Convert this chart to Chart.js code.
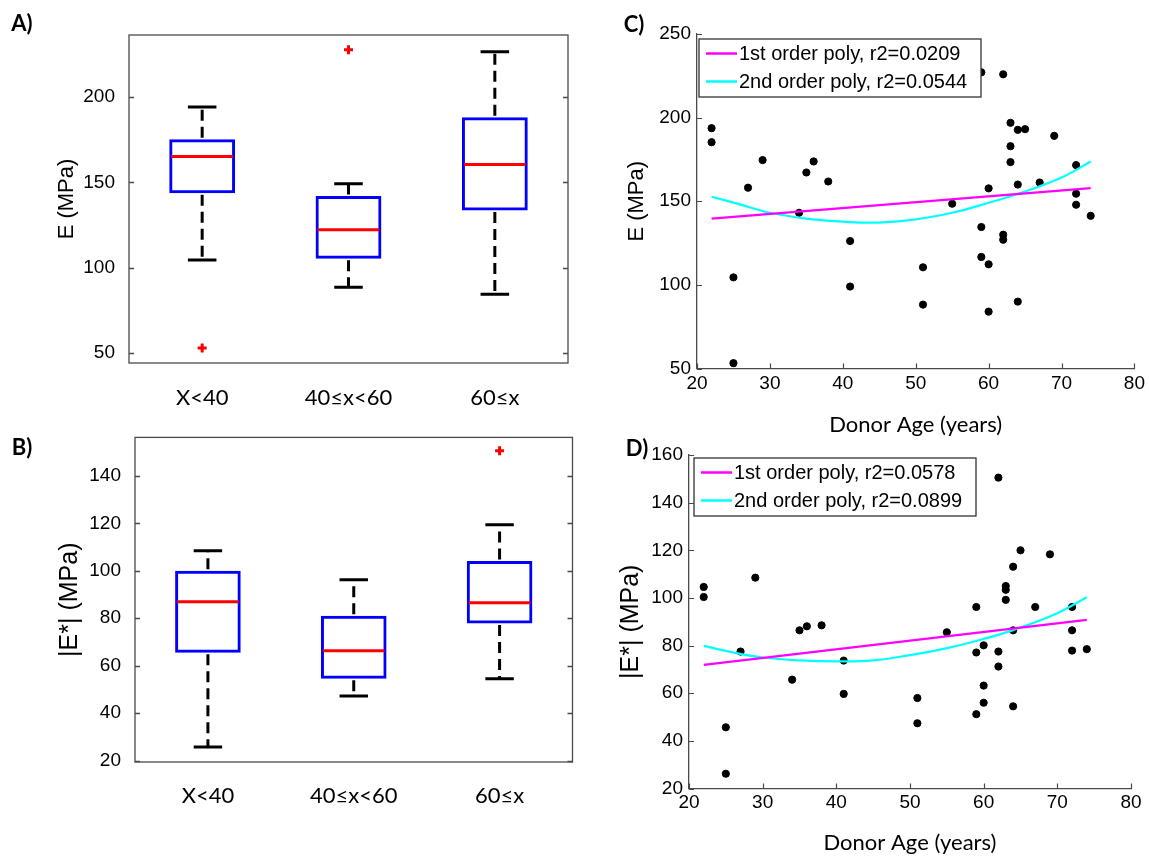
<!DOCTYPE html>
<html><head><meta charset="utf-8">
<script src="https://cdn.jsdelivr.net/npm/chart.js@4.4.1/dist/chart.umd.min.js"></script>
<style>
html,body{margin:0;padding:0;background:#fff;}
#wrap{position:relative;width:1149px;height:856px;overflow:hidden;background:#fff;}
canvas{position:absolute;}
.lab{position:absolute;font-family:Lato,"Open Sans",sans-serif;font-weight:700;font-size:22px;color:#000;transform:translate(-50%,-50%);line-height:1;white-space:nowrap;}
</style></head>
<body><div id="wrap">
<canvas id="cA" width="580" height="420" style="left:0;top:0"></canvas>
<canvas id="cB" width="580" height="436" style="left:0;top:420px"></canvas>
<canvas id="cC" width="569" height="445" style="left:580px;top:0"></canvas>
<canvas id="cD" width="569" height="426" style="left:580px;top:430px"></canvas>
<div class="lab" style="left:22px;top:23px">A)</div>
<div class="lab" style="left:22px;top:447px">B)</div>
<div class="lab" style="left:634px;top:24px">C)</div>
<div class="lab" style="left:637px;top:448px">D)</div>
</div>
<script>
// ---------- DATA ----------
const groups = ['X<40', '40≤x<60', '60≤x'];

// Panel A: E (MPa) box plot
const aLowerWhisker = [104.5, 88.6, 84.5];
const aQ1           = [143.7, 105.3, 133.6];
const aMedian       = [165.3, 122.3, 160.6];
const aQ3           = [175.3, 142.1, 188.3];
const aUpperWhisker = [194.3, 149.2, 226.7];
const aOutliers     = [52.9, 227.9, null];
const aYTicks       = [50, 100, 150, 200];

// Panel B: |E*| (MPa) box plot
const bLowerWhisker = [25.7, 47.2, 54.5];
const bQ1           = [65.4, 54.5, 77.8];
const bMedian       = [86.9, 66.3, 86.5];
const bQ3           = [100.0, 81.0, 104.1];
const bUpperWhisker = [108.4, 96.2, 119.4];
const bOutliers     = [null, null, 150.6];
const bYTicks       = [20, 40, 60, 80, 100, 120, 140];

// Panels C & D: donor age scatter
const donorAge = [22,22,25,25,27,29,34,35,36,38,41,41,51,51,55,59,59,59,60,60,60,62,62,62,63,63,63,64,64,64,65,67,69,72,72,72,74];
const cModulus = [193.7,185.3,104.5,53.2,158.1,174.6,143.1,167.2,173.8,161.8,126.2,99.0,110.5,88.2,148.5,227.1,134.6,116.7,157.7,112.3,84.0,225.9,130.0,127.0,196.9,182.9,173.4,192.7,160.0,90.0,193.1,161.2,189.1,171.6,154.5,147.9,141.3];
const dModulus = [104.6,100.4,45.7,26.2,77.5,108.5,65.7,86.4,88.1,88.5,73.7,59.7,58.0,47.4,85.6,96.2,77.1,51.2,80.1,63.2,56.0,150.5,77.5,71.2,105.0,103.4,99.2,113.1,86.4,54.5,120.0,96.2,118.3,96.2,86.4,77.9,78.5];

const cLinAge  = [22, 74];
const cLinE    = [139.6, 157.9];
const cQuadAge = [22, 26, 30, 35, 40, 43, 46, 50, 55, 60, 64.5, 70, 74];
const cQuadE   = [152.7, 148.0, 143.1, 139.6, 137.8, 137.2, 137.5, 139.2, 143.1, 149.1, 155.1, 164.2, 173.8];
const cLegend  = ['1st order poly, r2=0.0209', '2nd order poly, r2=0.0544'];

const dLinAge  = [22, 74];
const dLinE    = [71.9, 90.8];
const dQuadAge = [22, 26, 30, 35, 40, 45, 50, 55, 60, 64, 70, 74];
const dQuadE   = [79.9, 77.1, 75.0, 73.8, 73.4, 73.8, 76.0, 78.9, 82.8, 86.5, 93.6, 100.3];
const dLegend  = ['1st order poly, r2=0.0578', '2nd order poly, r2=0.0899'];

const ageTicks = [20, 30, 40, 50, 60, 70, 80];
const cYTicks  = [50, 100, 150, 200, 250];
const dYTicks  = [20, 40, 60, 80, 100, 120, 140, 160];

// ---------- HELPERS ----------
const TICKFONT = '"Liberation Sans", Arial, sans-serif';
const CATFONT = 'Lato, "Open Sans", sans-serif';
const pts = (xs, ys) => xs.map((x, i) => ({x, y: ys[i]}));
const fixTicks = arr => (s => { s.ticks = arr.map(v => ({value: v})); });

const boxFrame = {
  id: 'boxFrame',
  afterDraw(chart) {
    const {ctx, chartArea: {left, right, top, bottom}, scales: {y}} = chart;
    ctx.save();
    ctx.strokeStyle = '#4a4a4a'; ctx.lineWidth = 1.3;
    ctx.strokeRect(left, top, right - left, bottom - top);
    ctx.beginPath();
    y.ticks.forEach(t => {
      const py = Math.round(y.getPixelForValue(t.value)) + 0.5;
      ctx.moveTo(left, py); ctx.lineTo(left + 5, py);
      ctx.moveTo(right, py); ctx.lineTo(right - 5, py);
    });
    ctx.stroke();
    ctx.restore();
  }
};

const boxWhisker = {
  id: 'boxWhisker',
  afterDatasetsDraw(chart, args, o) {
    const {ctx, scales: {x, y}} = chart;
    const cw = x.getPixelForValue(1) - x.getPixelForValue(0);
    const capHalf = cw * o.capFrac / 2, boxHalf = cw * o.boxFrac / 2;
    ctx.save();
    ctx.lineWidth = 3; ctx.lineCap = 'butt';
    o.median.forEach((m, i) => {
      const px = x.getPixelForValue(i);
      const yq1 = y.getPixelForValue(o.q1[i]), yq3 = y.getPixelForValue(o.q3[i]);
      const ylo = y.getPixelForValue(o.lower[i]), yhi = y.getPixelForValue(o.upper[i]);
      ctx.strokeStyle = '#000';
      ctx.setLineDash([11, 6]);
      ctx.beginPath();
      ctx.moveTo(px, yq3 - 1.5); ctx.lineTo(px, yhi);
      ctx.moveTo(px, yq1 + 1.5); ctx.lineTo(px, ylo);
      ctx.stroke();
      ctx.setLineDash([]);
      ctx.beginPath();
      ctx.moveTo(px - capHalf, yhi); ctx.lineTo(px + capHalf, yhi);
      ctx.moveTo(px - capHalf, ylo); ctx.lineTo(px + capHalf, ylo);
      ctx.stroke();
      const ym = y.getPixelForValue(m);
      ctx.strokeStyle = '#ff0000';
      ctx.beginPath();
      ctx.moveTo(px - boxHalf + 2, ym); ctx.lineTo(px + boxHalf - 2, ym);
      ctx.stroke();
    });
    ctx.restore();
  }
};

const inTicks = {
  id: 'inTicks',
  afterDraw(chart) {
    const {ctx, chartArea: {left, bottom}, scales: {x, y}} = chart;
    ctx.save();
    ctx.strokeStyle = '#4a4a4a'; ctx.lineWidth = 1.2;
    ctx.beginPath();
    x.ticks.forEach(t => {
      const px = Math.round(x.getPixelForValue(t.value)) + 0.5;
      ctx.moveTo(px, bottom); ctx.lineTo(px, bottom - 5);
    });
    y.ticks.forEach(t => {
      const py = Math.round(y.getPixelForValue(t.value)) + 0.5;
      ctx.moveTo(left, py); ctx.lineTo(left + 5, py);
    });
    ctx.stroke();
    ctx.restore();
  }
};

const boxLegend = {
  id: 'boxLegend',
  afterDatasetsDraw(chart, args, o) {
    const {ctx, chartArea} = chart;
    const x0 = chartArea.left + o.dx, y0 = chartArea.top + o.dy;
    ctx.save();
    ctx.fillStyle = '#fff';
    ctx.fillRect(x0, y0, o.w, o.h);
    ctx.strokeStyle = '#333'; ctx.lineWidth = 1.3;
    ctx.strokeRect(x0, y0, o.w, o.h);
    o.items.forEach((di, i) => {
      const ds = chart.data.datasets[di];
      const yy = y0 + o.rows[i];
      ctx.strokeStyle = ds.borderColor; ctx.lineWidth = 2.5;
      ctx.beginPath(); ctx.moveTo(x0 + 7, yy); ctx.lineTo(x0 + 38, yy); ctx.stroke();
      ctx.fillStyle = '#000';
      ctx.font = '20px ' + TICKFONT;
      ctx.textBaseline = 'middle'; ctx.textAlign = 'left';
      ctx.fillText(ds.label, x0 + 40, yy + 1);
    });
    ctx.restore();
  }
};

function boxChart(id, cfg) {
  return new Chart(document.getElementById(id), {
    type: 'bar',
    data: {
      labels: groups,
      datasets: [
        {
          type: 'line', data: cfg.outliers, showLine: false,
          pointStyle: 'cross', pointRadius: 4.5, pointBorderWidth: 3,
          borderColor: '#ff0000', backgroundColor: '#ff0000', order: 0
        },
        {
          data: cfg.q1.map((v, i) => [v, cfg.q3[i]]),
          backgroundColor: 'rgba(0,0,0,0)', borderColor: '#0000ff', borderWidth: 3,
          borderSkipped: false, barPercentage: 0.45, categoryPercentage: 1.0, order: 1
        }
      ]
    },
    options: {
      responsive: false, animation: false, maintainAspectRatio: false,
      layout: {padding: cfg.padding},
      plugins: {
        legend: {display: false}, tooltip: {enabled: false},
        boxWhisker: {lower: cfg.lower, q1: cfg.q1, median: cfg.median, q3: cfg.q3, upper: cfg.upper, capFrac: 0.195, boxFrac: 0.45}
      },
      scales: {
        x: {
          type: 'category', offset: true,
          grid: {display: false}, border: {display: false},
          ticks: {font: {family: CATFONT, size: 22}, color: '#000', padding: cfg.xPad},
          afterFit: s => { s.height = cfg.xH; }
        },
        y: {
          min: cfg.min, max: cfg.max,
          grid: {display: false}, border: {display: false},
          ticks: {font: {family: TICKFONT, size: 19}, color: '#000', padding: 6},
          afterBuildTicks: fixTicks(cfg.yTicks),
          title: {display: true, text: cfg.yTitle, color: '#000', font: {family: TICKFONT, size: cfg.titleSize}, padding: {top: cfg.titlePad, bottom: 0}},
          afterFit: s => { s.width = cfg.yW; }
        }
      }
    },
    plugins: [boxWhisker, boxFrame]
  });
}

function scatterChart(id, cfg) {
  return new Chart(document.getElementById(id), {
    type: 'scatter',
    data: {
      datasets: [
        {label: cfg.legend[0], data: pts(cfg.linAge, cfg.linE), showLine: true, borderColor: '#ff00ff', borderWidth: 2.2, pointRadius: 0, tension: 0, order: 0},
        {label: cfg.legend[1], data: pts(cfg.quadAge, cfg.quadE), showLine: true, borderColor: '#00ffff', borderWidth: 2.2, pointRadius: 0, tension: 0.4, order: 1},
        {label: 'data', data: pts(donorAge, cfg.values), pointRadius: 3.6, pointBackgroundColor: '#000', pointBorderColor: '#000', borderColor: '#000', backgroundColor: '#000', order: 2}
      ]
    },
    options: {
      responsive: false, animation: false, maintainAspectRatio: false,
      layout: {padding: cfg.padding},
      plugins: {
        legend: {display: false}, tooltip: {enabled: false},
        boxLegend: {dx: cfg.lgDx, dy: cfg.lgDy, w: 282, h: 58, rows: [14.5, 42.5], items: [0, 1]}
      },
      scales: {
        x: {
          type: 'linear', min: 20, max: 80,
          grid: {display: true, drawOnChartArea: false, drawTicks: false},
          border: {display: true, color: '#4a4a4a', width: 1.3},
          ticks: {font: {family: TICKFONT, size: 19}, color: '#000', padding: cfg.xPad},
          afterBuildTicks: fixTicks(ageTicks),
          title: {display: true, text: 'Donor Age (years)', color: '#000', font: {family: CATFONT, size: 22}, padding: {top: 0, bottom: cfg.xTitlePad}},
          afterFit: s => { s.height = cfg.xH; }
        },
        y: {
          type: 'linear', min: cfg.min, max: cfg.max,
          grid: {display: true, drawOnChartArea: false, drawTicks: false},
          border: {display: true, color: '#4a4a4a', width: 1.3},
          ticks: {font: {family: TICKFONT, size: 19}, color: '#000', padding: 6},
          afterBuildTicks: fixTicks(cfg.yTicks),
          title: {display: true, text: cfg.yTitle, color: '#000', font: {family: TICKFONT, size: cfg.titleSize}, padding: {top: cfg.titlePad, bottom: 0}},
          afterFit: s => { s.width = cfg.yW; }
        }
      }
    },
    plugins: [inTicks, boxLegend]
  });
}

boxChart('cA', {
  lower: aLowerWhisker, q1: aQ1, median: aMedian, q3: aQ3, upper: aUpperWhisker, outliers: aOutliers,
  yTicks: aYTicks, min: 44.1, max: 236.5, yTitle: 'E (MPa)', titleSize: 22, titlePad: 54,
  padding: {left: 0, top: 35, right: 12, bottom: 0}, yW: 129, xH: 57, xPad: 14
});
boxChart('cB', {
  lower: bLowerWhisker, q1: bQ1, median: bMedian, q3: bQ3, upper: bUpperWhisker, outliers: bOutliers,
  yTicks: bYTicks, min: 19.4, max: 156.2, yTitle: '|E*| (MPa)', titleSize: 25, titlePad: 55,
  padding: {left: 0, top: 14, right: 7, bottom: 0}, yW: 135, xH: 94, xPad: 13
});
scatterChart('cC', {
  values: cModulus, linAge: cLinAge, linE: cLinE, quadAge: cQuadAge, quadE: cQuadE, legend: cLegend,
  yTicks: cYTicks, min: 50, max: 250, yTitle: 'E (MPa)', titleSize: 22, titlePad: 44,
  padding: {left: 0, top: 34, right: 12, bottom: 0}, yW: 117, xH: 76.5, xPad: 4, xTitlePad: 7,
  lgDx: 2, lgDy: 5
});
scatterChart('cD', {
  values: dModulus, linAge: dLinAge, linE: dLinE, quadAge: dQuadAge, quadE: dQuadE, legend: dLegend,
  yTicks: dYTicks, min: 20, max: 160, yTitle: '|E*| (MPa)', titleSize: 25, titlePad: 36,
  padding: {left: 0, top: 25, right: 18, bottom: 0}, yW: 109, xH: 67.5, xPad: 3, xTitlePad: 0,
  lgDx: 5, lgDy: 3
});
</script>
</body></html>
